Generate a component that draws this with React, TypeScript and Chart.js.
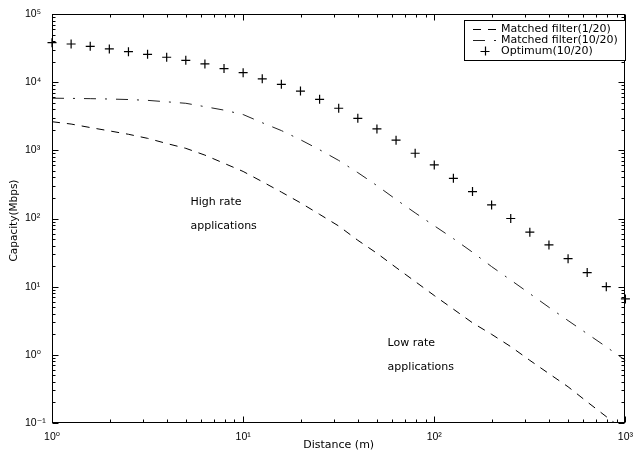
import React, { useEffect, useRef } from 'react';
import { Chart, registerables } from 'chart.js';

Chart.register(...registerables);

// ---- data ----
const distances = [1, 1.259, 1.585, 1.995, 2.512, 3.162, 3.981, 5.012, 6.31, 7.943, 10, 12.59, 15.85, 19.95, 25.12, 31.62, 39.81, 50.12, 63.1, 79.43, 100, 125.9, 158.5, 199.5, 251.2, 316.2, 398.1, 501.2, 631, 794.3, 1000];
const matchedFilter1 = [2630, 2430, 2160, 1930, 1720, 1500, 1260, 1070, 851, 646, 490, 347, 244, 170, 115, 77.6, 47.9, 30.9, 19.1, 11.9, 7.41, 4.68, 2.95, 2.0, 1.32, 0.83, 0.53, 0.34, 0.204, 0.124, 0.076];
const matchedFilter10 = [5820, 5780, 5730, 5660, 5560, 5410, 5150, 4900, 4370, 3890, 3350, 2540, 1950, 1430, 1020, 711, 471, 304, 190, 121, 78.2, 50.7, 32, 19.7, 12.5, 7.9, 4.98, 3.18, 2.04, 1.31, 0.83];
const optimum10 = [38000, 36300, 33600, 30700, 28000, 25600, 23200, 20900, 18500, 15800, 13800, 11200, 9300, 7400, 5600, 4140, 2950, 2060, 1410, 906, 611, 389, 248, 158, 100, 63, 41, 25.7, 16.1, 10, 6.6];

const seriesLabels = ['Matched filter(1/20)', 'Matched filter(10/20)', 'Optimum(10/20)'];

const xTicks = [1, 10, 100, 1000];
const xTickLabels = ['10\u2070', '10\u00b9', '10\u00b2', '10\u00b3'];
const yTicks = [0.1, 1, 10, 100, 1000, 10000, 100000];
const yTickLabels = ['10\u207b\u00b9', '10\u2070', '10\u00b9', '10\u00b2', '10\u00b3', '10\u2074', '10\u2075'];

const xTitle = 'Distance (m)';
const yTitle = 'Capacity(Mbps)';

// annotation texts, anchored in data coordinates (left edge, vertical middle)
const noteTexts = ['High rate', 'applications', 'Low rate', 'applications'];
const noteX = [5.3, 5.3, 57, 57];
const noteY = [175, 78, 1.5, 0.667];

const FONT = "'DejaVu Sans', 'Liberation Sans', sans-serif";

const decorPlugin = {
  id: 'decor',
  afterDraw(chart: any) {
    const { ctx, chartArea: a, scales } = chart;
    const xs = scales.x;
    const ys = scales.y;
    ctx.save();
    ctx.strokeStyle = '#000';
    ctx.lineWidth = 1;
    ctx.setLineDash([]);
    const L = Math.round(a.left) + 0.5;
    const R = Math.round(a.right) - 0.5;
    const T = Math.round(a.top) + 0.5;
    const B = Math.round(a.bottom) - 0.5;
    ctx.strokeRect(L, T, R - L, B - T);

    ctx.beginPath();
    // x ticks
    for (let d = 1; d <= 1000; d *= 10) {
      for (let m = 1; m <= 9; m++) {
        const v = d * m;
        if (v > 1000) break;
        const px = Math.round(xs.getPixelForValue(v)) + 0.5;
        const len = m === 1 ? 6 : 3;
        ctx.moveTo(px, B); ctx.lineTo(px, B - len);
        ctx.moveTo(px, T); ctx.lineTo(px, T + len);
      }
    }
    // y ticks
    for (let d = 0.1; d <= 100000 * 1.01; d *= 10) {
      for (let m = 1; m <= 9; m++) {
        const v = d * m;
        if (v > 100000 * 1.001) break;
        const py = Math.round(ys.getPixelForValue(v)) + 0.5;
        const len = m === 1 ? 6 : 3;
        ctx.moveTo(L, py); ctx.lineTo(L + len, py);
        ctx.moveTo(R, py); ctx.lineTo(R - len, py);
      }
    }
    ctx.stroke();

    // axis titles
    ctx.fillStyle = '#000';
    ctx.font = `11px ${FONT}`;
    ctx.textAlign = 'center';
    ctx.textBaseline = 'middle';
    ctx.fillText(xTitle, (a.left + a.right) / 2, 445);
    ctx.save();
    ctx.translate(14, (a.top + a.bottom) / 2 + 2);
    ctx.rotate(-Math.PI / 2);
    ctx.font = `10.5px ${FONT}`;
    ctx.fillText(yTitle, 0, 0);
    ctx.restore();

    // annotations
    ctx.font = `11px ${FONT}`;
    ctx.textAlign = 'left';
    noteTexts.forEach((t, i) => {
      ctx.fillText(t, xs.getPixelForValue(noteX[i]), ys.getPixelForValue(noteY[i]));
    });

    // legend
    const bx = 464.5, by = 20.5, bw = 161, bh = 40;
    ctx.fillStyle = '#fff';
    ctx.fillRect(bx, by, bw, bh);
    ctx.strokeStyle = '#000';
    ctx.lineWidth = 1;
    ctx.strokeRect(bx, by, bw, bh);
    const rows = [29, 40, 51];
    chart.data.datasets.forEach((ds: any, i: number) => {
      const ry = rows[i];
      ctx.strokeStyle = ds.borderColor;
      if (ds.showLine) {
        ctx.lineWidth = ds.borderWidth;
        ctx.setLineDash(ds.borderDash || []);
        ctx.beginPath();
        ctx.moveTo(473, ry + 0.5);
        ctx.lineTo(497, ry + 0.5);
        ctx.stroke();
        ctx.setLineDash([]);
      } else {
        ctx.lineWidth = ds.borderWidth;
        const r = ds.pointRadius;
        ctx.beginPath();
        ctx.moveTo(485 - r, ry + 0.5); ctx.lineTo(485 + r, ry + 0.5);
        ctx.moveTo(485.5, ry - r); ctx.lineTo(485.5, ry + r);
        ctx.stroke();
      }
      ctx.fillStyle = '#000';
      ctx.font = `11px ${FONT}`;
      ctx.textAlign = 'left';
      ctx.textBaseline = 'middle';
      ctx.fillText(ds.label, 501, ry + 0.5);
    });
    ctx.restore();
  },
};

function toPoints(ys: number[]) {
  return distances.map((d, i) => ({ x: d, y: ys[i] }));
}

export default function App() {
  const ref = useRef<HTMLCanvasElement>(null);
  useEffect(() => {
    const chart = new Chart(ref.current as HTMLCanvasElement, {
      type: 'scatter',
      data: {
        datasets: [
          {
            label: seriesLabels[0],
            data: toPoints(matchedFilter1),
            showLine: true,
            borderColor: '#000',
            borderWidth: 1,
            borderDash: [8, 7],
            pointRadius: 0,
            fill: false,
          },
          {
            label: seriesLabels[1],
            data: toPoints(matchedFilter10),
            showLine: true,
            borderColor: '#222',
            borderWidth: 1,
            borderDash: [12, 9, 2, 9],
            pointRadius: 0,
            fill: false,
          },
          {
            label: seriesLabels[2],
            data: toPoints(optimum10),
            showLine: false,
            pointStyle: 'cross',
            pointRadius: 4.5,
            borderColor: '#000',
            backgroundColor: '#000',
            borderWidth: 1.2,
            clip: false,
          } as any,
        ],
      },
      options: {
        animation: false,
        responsive: true,
        maintainAspectRatio: false,
        layout: { padding: { left: 25, right: 10, top: 14, bottom: 0 } },
        plugins: { legend: { display: false }, tooltip: { enabled: false } },
        events: [],
        scales: {
          x: {
            type: 'logarithmic',
            position: 'bottom',
            min: 1,
            max: 1000,
            afterFit: (s: any) => { s.height = 38; },
            afterBuildTicks: (s: any) => { s.ticks = xTicks.map((v) => ({ value: v })); },
            ticks: {
              callback: (_v: any, i: number) => xTickLabels[i],
              font: { family: "'Liberation Sans', 'DejaVu Sans', sans-serif", size: 10.5 },
              color: '#000',
              padding: 8,
              maxRotation: 0,
              autoSkip: false,
            },
            grid: { display: false, drawTicks: false },
            border: { display: false },
          },
          y: {
            type: 'logarithmic',
            position: 'left',
            min: 0.1,
            max: 100000,
            afterFit: (s: any) => { s.width = 27; },
            afterBuildTicks: (s: any) => { s.ticks = yTicks.map((v) => ({ value: v })); },
            ticks: {
              callback: (_v: any, i: number) => yTickLabels[i],
              font: { family: "'Liberation Sans', 'DejaVu Sans', sans-serif", size: 10.5 },
              color: '#000',
              crossAlign: 'far',
              autoSkip: false,
            },
            grid: { display: false, drawTicks: false },
            border: { display: false },
          },
        },
      } as any,
      plugins: [decorPlugin],
    });
    return () => chart.destroy();
  }, []);
  return (
    <div style={{ position: 'absolute', left: 0, top: 0, width: 641, height: 461, background: '#fff' }}>
      <canvas ref={ref} />
    </div>
  );
}
